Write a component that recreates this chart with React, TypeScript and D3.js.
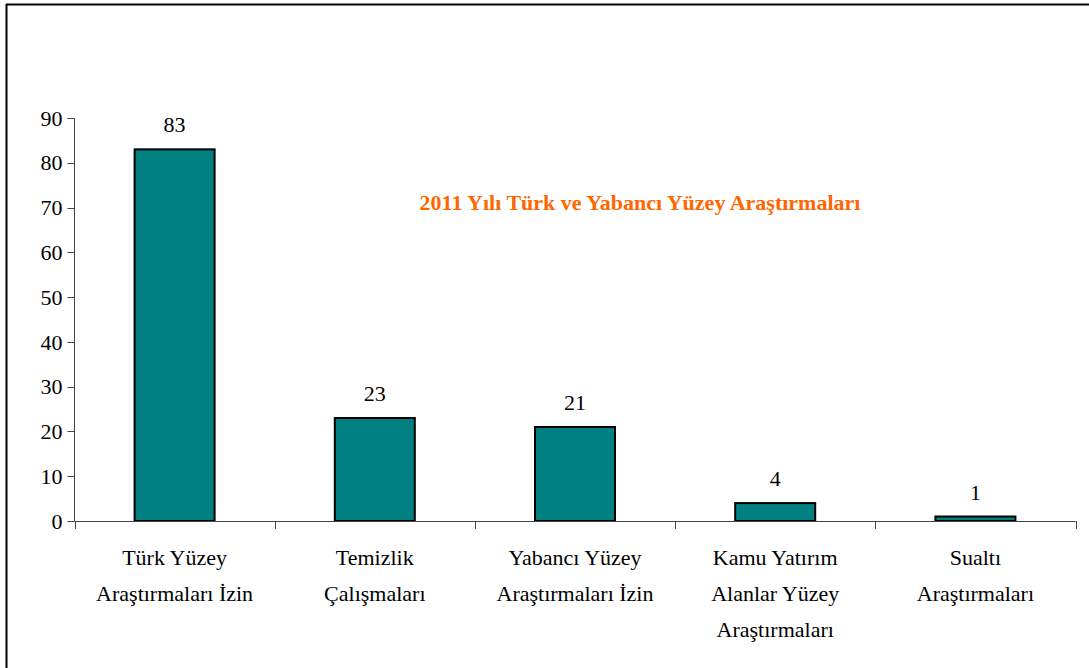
import React from "react";
import * as d3 from "d3";

const categories = [
  ["Türk Yüzey", "Araştırmaları İzin"],
  ["Temizlik", "Çalışmaları"],
  ["Yabancı Yüzey", "Araştırmaları İzin"],
  ["Kamu Yatırım", "Alanlar Yüzey", "Araştırmaları"],
  ["Sualtı", "Araştırmaları"],
];
const values = [83, 23, 21, 4, 1];
const yTicks = [0, 10, 20, 30, 40, 50, 60, 70, 80, 90];
const title = "2011 Yılı Türk ve Yabancı Yüzey Araştırmaları";

const W = 1089;
const H = 668;

const left = 74.5;
const right = 1075.5;
const top = 118;
const bottom = 521;

const App = () => {
  const keys = categories.map((_, i) => String(i));
  const x = d3.scaleBand().domain(keys).range([left, right]).padding(0);
  const y = d3.scaleLinear().domain([0, 90]).range([bottom, top]);
  const barW = 80;
  const cx = (i: number) => x(String(i))! + x.bandwidth() / 2;
  const bounds = [left, ...keys.map(k => x(k)! + x.bandwidth())];

  return (
    <svg width={W} height={H} style={{ position: "absolute", left: 0, top: 0, background: "#fff" }}>
      <style>{`text { font-family: "Liberation Serif", "Tinos", "Times New Roman", serif; font-size: 22px; }`}</style>
      {/* frame: top and left edges */}
      <line x1={6} x2={W} y1={4.5} y2={4.5} stroke="#000" strokeWidth={2} />
      <line x1={6.5} x2={6.5} y1={4} y2={H} stroke="#000" strokeWidth={2} />

      {/* bars */}
      {values.map((v, i) => (
        <rect key={i} x={cx(i) - barW / 2} y={y(v)} width={barW} height={y(0) - y(v)}
          fill="#008080" stroke="#000" strokeWidth={2} />
      ))}

      {/* value labels */}
      {values.map((v, i) => (
        <text key={i} x={cx(i)} y={y(v) - 17} textAnchor="middle" fill="#000">{v}</text>
      ))}

      {/* y axis */}
      <path d={`M${left - 7},${top + 0.5}H${left}V${bottom}`} fill="none" stroke="#444" />
      {yTicks.map(t => (
        <g key={t}>
          <line x1={left - 7} x2={left} y1={Math.round(y(t)) + 0.5} y2={Math.round(y(t)) + 0.5} stroke="#444" />
          <text x={left - 12} y={y(t)} dy="0.35em" textAnchor="end" fill="#000">{t}</text>
        </g>
      ))}

      {/* x axis */}
      <line x1={left} x2={right} y1={bottom + 0.5} y2={bottom + 0.5} stroke="#444" />
      {bounds.map((b, i) => (
        <line key={i} x1={Math.round(b) + 0.5} x2={Math.round(b) + 0.5} y1={bottom} y2={bottom + 8} stroke="#444" />
      ))}

      {/* category labels */}
      {categories.map((lines, i) => (
        <text key={i} x={cx(i)} y={565} textAnchor="middle" fill="#000">
          {lines.map((l, j) => (
            <tspan key={j} x={cx(i)} dy={j === 0 ? 0 : 36}>{l}</tspan>
          ))}
        </text>
      ))}

      {/* title */}
      <text x={640} y={210} textAnchor="middle" fontWeight="bold" fill="#FF6600">{title}</text>
    </svg>
  );
};

export default App;
